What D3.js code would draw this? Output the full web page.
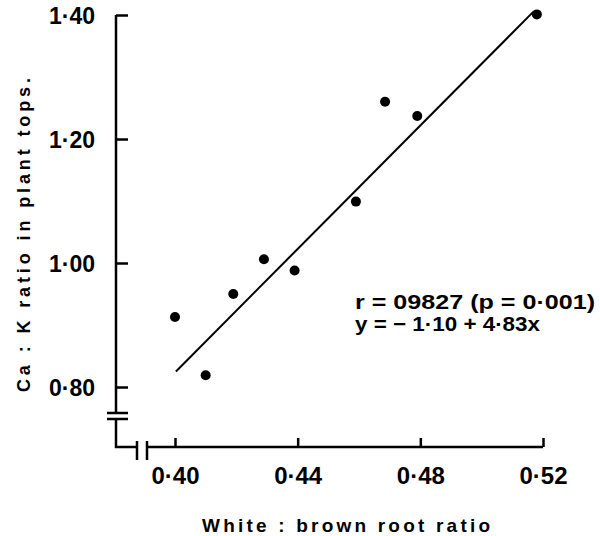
<!DOCTYPE html>
<html>
<head>
<meta charset="utf-8">
<script src="https://cdn.jsdelivr.net/npm/d3@7"></script>
<style>
  body { margin: 0; background: #fff; }
  text { font-family: "Liberation Sans", Arial, sans-serif; font-weight: bold; fill: #000; }
</style>
</head>
<body>
<div id="wrapper"></div>
<script>
// white:brown root ratio vs Ca:K ratio in plant tops
const rootRatio = [0.400, 0.410, 0.419, 0.429, 0.439, 0.459, 0.4685, 0.479, 0.518]
const caK = [0.913, 0.819, 0.950, 1.006, 0.988, 1.099, 1.260, 1.237, 1.401]

// fitted line endpoints (as drawn)
const fitX = [0.4003, 0.5168]
const fitY = [0.825, 1.405]

const xTicks = [0.40, 0.44, 0.48, 0.52]
const yTicks = [0.80, 1.00, 1.20, 1.40]

const statText = ['r = 09827 (p = 0·001)', 'y = − 1·10 + 4·83x']

const fmt = d => d3.format('.2f')(d).replace('.', '·')

const svg = d3.select('#wrapper')
    .append('svg')
        .attr('width', 600)
        .attr('height', 536)

const xScale = d3.scaleLinear().domain([0.40, 0.52]).range([175, 543])
const yScale = d3.scaleLinear().domain([0.80, 1.40]).range([387, 15])

const axisX = 116
const axisY = 447

// axis lines with the break marks
const axisG = svg.append('g')
    .attr('stroke', '#000')
    .attr('stroke-width', 2.5)
    .attr('fill', 'none')

axisG.append('path').attr('d', `M${axisX},${yScale(1.40)}V413`)
axisG.append('path').attr('d', `M${axisX},419V${axisY}H137`)
axisG.append('path').attr('d', `M147,${axisY}H${xScale(0.52)}`)
axisG.append('path').attr('d', 'M107,413H128M107,419H128')
axisG.append('path').attr('d', `M137,441V460M147,441V460`)

const yAxis = svg.append('g')
    .attr('transform', `translate(${axisX},0)`)
    .call(d3.axisLeft(yScale).tickValues(yTicks).tickFormat(fmt).tickSizeInner(-12).tickSizeOuter(0).tickPadding(21))

const xAxis = svg.append('g')
    .attr('transform', `translate(0,${axisY})`)
    .call(d3.axisBottom(xScale).tickValues(xTicks).tickFormat(fmt).tickSizeInner(-9).tickSizeOuter(0).tickPadding(20))

svg.selectAll('.domain').remove()
svg.selectAll('.tick line').attr('stroke', '#000').attr('stroke-width', 2.5)
yAxis.selectAll('.tick text').attr('font-size', 23).attr('font-family', null).attr('dy', '0.35em')
xAxis.selectAll('.tick text').attr('font-size', 24).attr('font-family', null).attr('dy', '0.71em')
yAxis.attr('font-size', null)
xAxis.attr('font-size', null)

// regression line
svg.append('line')
    .attr('x1', xScale(fitX[0]))
    .attr('y1', yScale(fitY[0]))
    .attr('x2', xScale(fitX[1]))
    .attr('y2', yScale(fitY[1]))
    .attr('stroke', '#000')
    .attr('stroke-width', 2)

// points
svg.selectAll('circle')
    .data(rootRatio)
    .join('circle')
        .attr('cx', d => xScale(d))
        .attr('cy', (d, i) => yScale(caK[i]))
        .attr('r', 5)
        .attr('fill', '#000')

// stats text
svg.selectAll('.stat')
    .data(statText)
    .join('text')
        .attr('class', 'stat')
        .attr('x', 355)
        .attr('y', (d, i) => 309 + i * 22)
        .attr('font-size', 21)
        .attr('textLength', (d, i) => i === 0 ? 240 : 185)
        .attr('lengthAdjust', 'spacingAndGlyphs')
        .text(d => d)

// axis titles
svg.append('text')
    .attr('x', 202)
    .attr('y', 532)
    .attr('font-size', 19)
    .attr('textLength', 288)
    .attr('lengthAdjust', 'spacing')
    .text('White : brown root ratio')

svg.append('text')
    .attr('transform', 'translate(30,392) rotate(-90)')
    .attr('font-size', 18)
    .attr('textLength', 314)
    .attr('lengthAdjust', 'spacing')
    .text('Ca : K ratio in plant tops.')
</script>
</body>
</html>
